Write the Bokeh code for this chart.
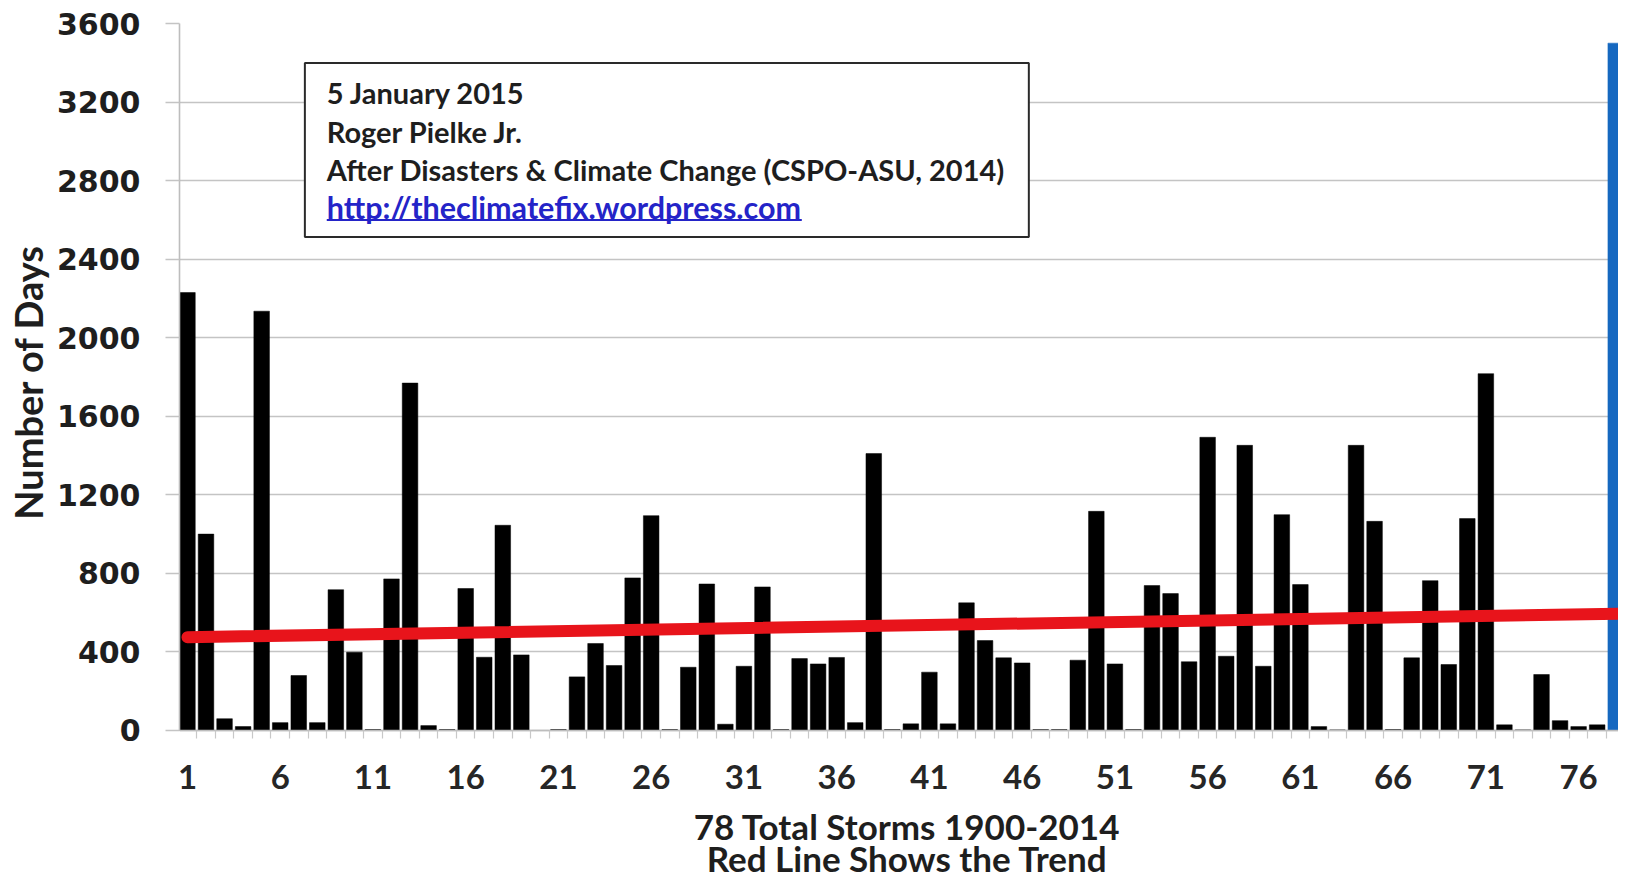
from bokeh.plotting import figure
from bokeh.models import Range1d, FixedTicker, BoxAnnotation, Label, Title, ColumnDataSource
from bokeh.embed import file_html
from bokeh.resources import INLINE

# ---- data ----
storm = list(range(1, 79))
days = [2230, 1000, 60, 20, 2135, 40, 280, 40, 717, 399,
        5, 772, 1769, 25, 5, 723, 373, 1045, 385, 0,
        5, 273, 443, 331, 777, 1094, 5, 322, 746, 32,
        327, 731, 5, 366, 339, 372, 40, 1410, 5, 34,
        297, 34, 650, 458, 370, 344, 5, 5, 358, 1116,
        339, 5, 738, 697, 350, 1493, 378, 1452, 327, 1099,
        743, 20, 3, 1452, 1065, 5, 370, 763, 336, 1079,
        1817, 29, 3, 285, 50, 20, 29, 3500]
ongoing_storm = 78
trend_x = [1, 78.6]
trend_y = [475, 595]
x_tick_labels = [1, 6, 11, 16, 21, 26, 31, 36, 41, 46, 51, 56, 61, 66, 71, 76]
y_ticks = [0, 400, 800, 1200, 1600, 2000, 2400, 2800, 3200, 3600]
note_lines = ["5 January 2015",
              "Roger Pielke Jr.",
              "After Disasters & Climate Change (CSPO-ASU, 2014)",
              "http://theclimatefix.wordpress.com"]
x_title_1 = "78 Total Storms 1900-2014"
x_title_2 = "Red Line Shows the Trend"
y_title = "Number of Days"

BLACK = "#000000"
BLUE = "#1668c0"
TEXT = "#1e1e1e"
URL = "#2424c8"
colors = [BLUE if s == ongoing_storm else BLACK for s in storm]
src = ColumnDataSource(dict(storm=storm, days=days, color=colors))

# the frame runs down to the bottom of the canvas; the x axis is pinned at 0
p = figure(width=1618, height=880, output_backend="svg", toolbar_location=None,
           x_range=Range1d(0.571, 78.15), y_range=Range1d(-763.8, 3600),
           min_border_left=100, min_border_right=0, min_border_top=23,
           min_border_bottom=0)
p.outline_line_color = None
p.background_fill_color = "white"

p.vbar(x="storm", top="days", width=0.84, source=src,
       fill_color="color", line_color="color", line_width=0.5)
p.line(trend_x, trend_y, line_color="#e8141b", line_width=12, line_cap="round")

# grid
p.xgrid.grid_line_color = None
p.yaxis.ticker = FixedTicker(ticks=y_ticks)
p.ygrid.grid_line_color = "#c4c4c4"
p.ygrid.grid_line_width = 1.6

# y axis
ya = p.yaxis[0]
ya.bounds = (0, 3600)
ya.axis_line_color = "#bdbdbd"
ya.axis_line_width = 1.6
ya.major_tick_out = 14
ya.major_tick_in = 0
ya.major_tick_line_color = "#c4c4c4"
ya.major_tick_line_width = 1.6
ya.minor_tick_line_color = None
ya.major_label_text_font = "DejaVu Sans"
ya.major_label_text_font_style = "bold"
ya.major_label_text_font_size = "30px"
ya.major_label_text_color = TEXT
ya.major_label_standoff = 25

# y axis title: placed along the 0..3600 part of the axis
p.add_layout(Title(text=y_title, align="right", offset=221, vertical_align="middle",
                   text_font="Lato", text_font_style="bold", text_font_size="38px",
                   text_color=TEXT, standoff=6), "left")

# x axis (pinned at y = 0)
xa = p.xaxis[0]
xa.fixed_location = 0
xa.ticker = FixedTicker(ticks=x_tick_labels,
                        minor_ticks=[s + 0.5 for s in storm])
xa.axis_line_color = "#bdbdbd"
xa.axis_line_width = 1.6
xa.major_tick_out = 8
xa.major_tick_in = 0
xa.major_tick_line_color = None
xa.minor_tick_out = 8
xa.minor_tick_in = 0
xa.minor_tick_line_color = "#c8c8c8"
xa.minor_tick_line_width = 1.2
xa.major_label_text_font = "Lato"
xa.major_label_text_font_style = "bold"
xa.major_label_text_font_size = "33px"
xa.major_label_text_color = "#262626"
xa.major_label_standoff = 27

# x axis title, two lines
for txt, yy in ((x_title_1, -484), (x_title_2, -647)):
    p.add_layout(Label(x=39.8, y=yy, text=txt, text_align="center", text_baseline="middle",
                       text_font="Lato", text_font_style="bold", text_font_size="35px",
                       text_color=TEXT))

# note box
p.add_layout(BoxAnnotation(left=7.33, right=46.36, bottom=2513, top=3399,
                           fill_color="white", fill_alpha=1.0,
                           line_color="#2a2a2a", line_alpha=1.0, line_width=2,
                           level="overlay"))
line_y = [3248, 3052, 2857, 2666]
for i, txt in enumerate(note_lines):
    is_url = txt.startswith("http")
    p.add_layout(Label(x=8.51, y=line_y[i], text=txt, text_baseline="middle",
                       text_align="left", text_font="Lato", text_font_style="bold",
                       text_font_size="30.5px" if is_url else "29px",
                       text_color=URL if is_url else TEXT, level="overlay"))
p.add_layout(BoxAnnotation(left=8.51, right=34.12, bottom=2594, top=2604,
                           fill_color=URL, fill_alpha=1.0, line_color=None,
                           line_alpha=0.0, level="overlay"))

open("out.html", "w").write(file_html(p, INLINE))
